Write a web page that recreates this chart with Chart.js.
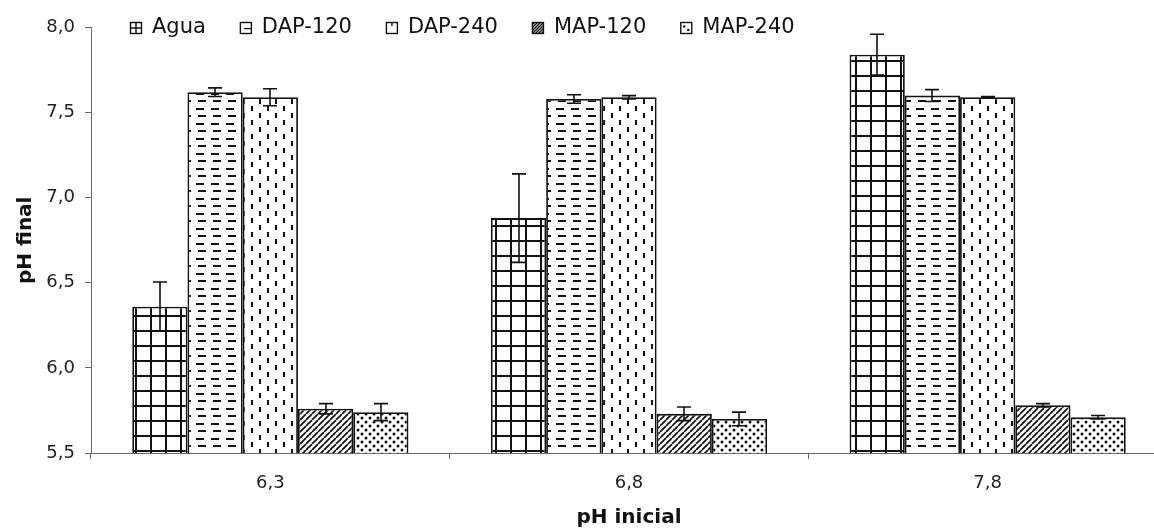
<!DOCTYPE html>
<html>
<head>
<meta charset="utf-8">
<title>pH final vs pH inicial</title>
<script src="https://cdn.jsdelivr.net/npm/chart.js@4/dist/chart.umd.min.js"></script>
<style>
  html, body { margin: 0; padding: 0; background: #fff; overflow: hidden; }
  #wrap { position: relative; width: 1167px; height: 530px; }
</style>
</head>
<body>
<div id="wrap"><canvas id="chart"></canvas></div>
<script>
const categories = ["6,3", "6,8", "7,8"];
const seriesNames = ["Agua", "DAP-120", "DAP-240", "MAP-120", "MAP-240"];

// medias
const agua   = [6.36, 6.88, 7.84];
const dap120 = [7.62, 7.58, 7.60];
const dap240 = [7.59, 7.59, 7.59];
const map120 = [5.76, 5.73, 5.78];
const map240 = [5.74, 5.70, 5.71];

// desvios (barras de error)
const aguaErr   = [0.145, 0.26, 0.12];
const dap120Err = [0.025, 0.025, 0.035];
const dap240Err = [0.05, 0.01, 0.005];
const map120Err = [0.03, 0.04, 0.01];
const map240Err = [0.05, 0.04, 0.01];

const yTicks = [5.5, 6.0, 6.5, 7.0, 7.5, 8.0];

const INK = "#111";
const FONT = "'DejaVu Sans', 'Liberation Sans', sans-serif";

// ── Tramas de relleno ─────────────────────────────────────────────────────────

function makePattern(kind) {
  const sizes = { agua: [15, 15], dap120: [15, 15], dap240: [16, 14], map120: [6, 6], map240: [8, 8] };
  const [w, h] = sizes[kind];
  const c = document.createElement("canvas");
  c.width = w; c.height = h;
  const g = c.getContext("2d");
  g.fillStyle = "#fff";
  g.fillRect(0, 0, w, h);
  g.fillStyle = INK;
  g.strokeStyle = INK;
  if (kind === "agua") {
    g.fillRect(0, 0, w, 2);
    g.fillRect(0, 0, 2, h);
  } else if (kind === "dap120") {
    g.fillRect(1, 3, 8, 2);
    g.fillRect(3, 10, 8, 2);
  } else if (kind === "dap240") {
    g.fillRect(3, 1, 2, 5);
    g.fillRect(11, 8, 2, 5);
  } else if (kind === "map120") {
    // rayas "/" que se empalman entre baldosas
    g.lineWidth = 1.7;
    g.beginPath();
    [-w, 0, w].forEach(k => { g.moveTo(k, h); g.lineTo(k + w, 0); });
    g.stroke();
  } else if (kind === "map240") {
    g.beginPath(); g.arc(2, 2, 1.5, 0, Math.PI * 2); g.fill();
    g.beginPath(); g.arc(6, 6, 1.5, 0, Math.PI * 2); g.fill();
  }
  return g.createPattern(c, "repeat");
}

const kinds = ["agua", "dap120", "dap240", "map120", "map240"];
const values = [agua, dap120, dap240, map120, map240];
const errors = [aguaErr, dap120Err, dap240Err, map120Err, map240Err];

// pequeños símbolos de la leyenda
function drawSwatch(ctx, kind, x, y, s) {
  ctx.save();
  ctx.beginPath();
  ctx.rect(x, y, s, s);
  ctx.clip();
  ctx.fillStyle = "#fff";
  ctx.fillRect(x, y, s, s);
  ctx.strokeStyle = INK;
  ctx.fillStyle = INK;
  ctx.lineWidth = 1.4;
  ctx.beginPath();
  if (kind === "agua") {
    ctx.moveTo(x + s / 2, y); ctx.lineTo(x + s / 2, y + s);
    ctx.moveTo(x, y + s / 2); ctx.lineTo(x + s, y + s / 2);
  } else if (kind === "dap120") {
    ctx.moveTo(x + 4, y + s * 0.55); ctx.lineTo(x + s, y + s * 0.55);
  } else if (kind === "dap240") {
    ctx.moveTo(x + s / 2, y); ctx.lineTo(x + s / 2, y + 4);
  } else if (kind === "map120") {
    for (let k = -s; k < s; k += 3) {
      ctx.moveTo(x + k, y + s); ctx.lineTo(x + k + s, y);
    }
  }
  ctx.stroke();
  if (kind === "map240") {
    ctx.beginPath(); ctx.arc(x + 4, y + 4.5, 1.3, 0, Math.PI * 2); ctx.fill();
    ctx.beginPath(); ctx.arc(x + 8, y + 8, 1.3, 0, Math.PI * 2); ctx.fill();
  }
  ctx.restore();
  ctx.save();
  ctx.strokeStyle = INK;
  ctx.lineWidth = 1.4;
  ctx.strokeRect(x + 0.5, y + 0.5, s - 1, s - 1);
  ctx.restore();
}

// ── Plugins ───────────────────────────────────────────────────────────────────

const errorBars = {
  id: "errorBars",
  afterDatasetsDraw(chart) {
    const { ctx, scales: { y } } = chart;
    ctx.save();
    ctx.strokeStyle = INK;
    ctx.lineWidth = 1.6;
    chart.data.datasets.forEach((ds, i) => {
      chart.getDatasetMeta(i).data.forEach((bar, j) => {
        const v = ds.data[j], e = ds.err[j];
        const top = y.getPixelForValue(v + e);
        const bot = y.getPixelForValue(v - e);
        const x = Math.round(bar.x);
        ctx.beginPath();
        ctx.moveTo(x, top); ctx.lineTo(x, bot);
        ctx.moveTo(x - 7, top); ctx.lineTo(x + 7, top);
        ctx.moveTo(x - 7, bot); ctx.lineTo(x + 7, bot);
        ctx.stroke();
      });
    });
    ctx.restore();
  },
};

const patternLegend = {
  id: "patternLegend",
  afterDraw(chart) {
    const { ctx } = chart;
    ctx.save();
    ctx.font = `21px ${FONT}`;
    ctx.textBaseline = "middle";
    let x = 130;
    const y = 27;
    chart.data.datasets.forEach(ds => {
      drawSwatch(ctx, ds.kind, x, y - 5, 12);
      ctx.fillStyle = INK;
      ctx.fillText(ds.label, x + 22, y + 1);
      x += 22 + ctx.measureText(ds.label).width + 34;
    });
    ctx.restore();
  },
};

// ── Gráfico ───────────────────────────────────────────────────────────────────

const datasets = seriesNames.map((name, i) => ({
  label: name,
  kind: kinds[i],
  data: values[i],
  err: errors[i],
  backgroundColor: makePattern(kinds[i]),
  borderColor: INK,
  borderWidth: 1.8,
  borderSkipped: false,
  categoryPercentage: 0.77,
  barPercentage: 1.0,
}));

new Chart(document.getElementById("chart"), {
  type: "bar",
  data: { labels: categories, datasets },
  plugins: [errorBars, patternLegend],
  options: {
    responsive: true,
    maintainAspectRatio: false,
    animation: false,
    layout: { padding: { top: 27.5, left: 0, right: 0, bottom: 0 } },
    plugins: {
      legend: { display: false },
      tooltip: { enabled: false },
    },
    scales: {
      x: {
        afterFit: s => { s.height = 77; },
        border: { display: true, color: "#666", width: 1 },
        grid: { offset: true, drawOnChartArea: false, drawTicks: true, tickLength: 6, color: "#666" },
        ticks: { color: "#222", padding: 14, font: { family: FONT, size: 18 } },
        title: {
          display: true,
          text: "pH inicial",
          color: "#111",
          padding: { top: 0, bottom: 0 },
          font: { family: FONT, size: 20, weight: "bold" },
        },
      },
      y: {
        min: 5.5,
        max: 8.0,
        afterFit: s => { s.width = 91; },
        afterBuildTicks: s => { s.ticks = yTicks.map(v => ({ value: v })); },
        border: { display: true, color: "#666", width: 1 },
        grid: { drawOnChartArea: false, drawTicks: true, tickLength: 6, color: "#666" },
        ticks: {
          color: "#222",
          padding: 10,
          font: { family: FONT, size: 18 },
          callback: v => v.toFixed(1).replace(".", ","),
        },
        title: {
          display: true,
          text: "pH final",
          color: "#111",
          padding: { top: 14, bottom: 0 },
          font: { family: FONT, size: 20, weight: "bold" },
        },
      },
    },
  },
});
</script>
</body>
</html>
